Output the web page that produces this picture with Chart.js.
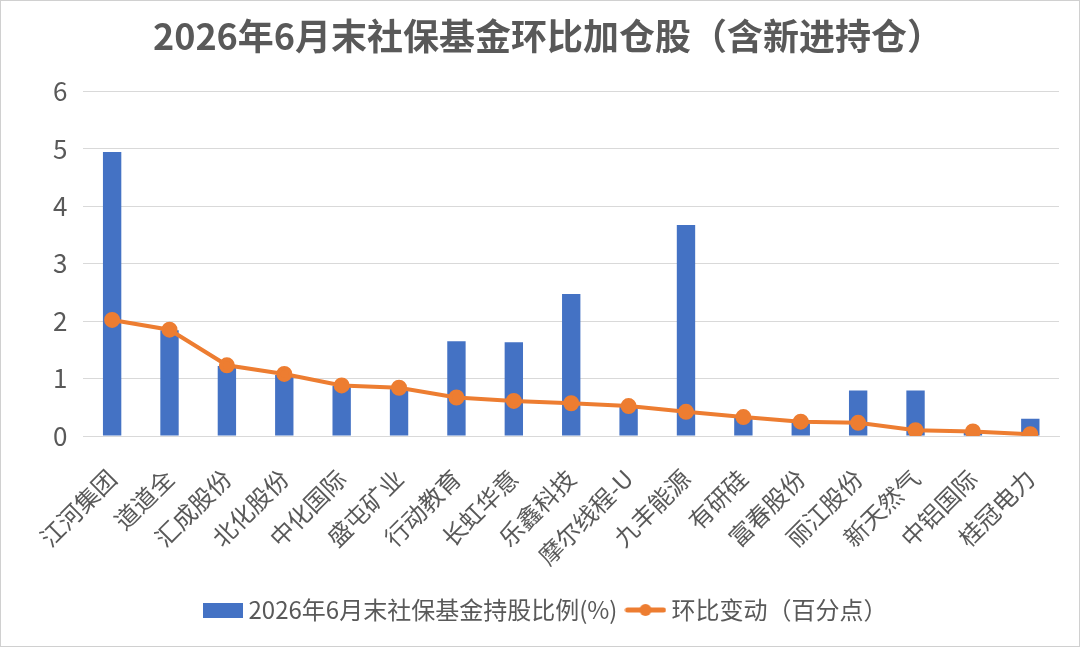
<!DOCTYPE html>
<html>
<head>
<meta charset="utf-8">
<script src="https://cdn.jsdelivr.net/npm/chart.js@4/dist/chart.umd.min.js"></script>
<style>
  html, body { margin: 0; padding: 0; background: #fff; }
  #wrap { position: relative; width: 1078px; height: 645px; border: 1px solid #d0d0d0; }
</style>
</head>
<body>
<div id="wrap"><canvas id="c"></canvas></div>
<script>
const categories = ['江河集团','道道全','汇成股份','北化股份','中化国际','盛屯矿业','行动教育','长虹华意','乐鑫科技','摩尔线程-U','九丰能源','有研硅','富春股份','丽江股份','新天然气','中铝国际','桂冠电力'];
const holdingPct = [4.94, 1.84, 1.22, 1.06, 0.87, 0.83, 1.65, 1.63, 2.47, 0.51, 3.67, 0.32, 0.24, 0.79, 0.79, 0.06, 0.30];
const changePts  = [2.02, 1.85, 1.23, 1.08, 0.88, 0.84, 0.67, 0.61, 0.57, 0.52, 0.42, 0.33, 0.25, 0.23, 0.10, 0.08, 0.03];
const yTicks = [0, 1, 2, 3, 4, 5, 6];

const FONT = '"Noto Sans CJK SC", "Noto Sans", sans-serif';
const TXT = '#595959';
const BLUE = '#4472C4';
const ORANGE = '#ED7D31';

// legend icons
const barIcon = document.createElement('canvas');
barIcon.width = 40; barIcon.height = 15;
(function(){
  const g = barIcon.getContext('2d');
  g.fillStyle = BLUE; g.fillRect(0, 0, 40, 15);
})();
const lineIcon = document.createElement('canvas');
lineIcon.width = 42; lineIcon.height = 14;
(function(){
  const g = lineIcon.getContext('2d');
  g.strokeStyle = ORANGE; g.lineWidth = 5; g.lineCap = 'round';
  g.beginPath(); g.moveTo(3, 7); g.lineTo(39, 7); g.stroke();
  g.fillStyle = ORANGE;
  g.beginPath(); g.arc(21, 7, 6, 0, Math.PI * 2); g.fill();
})();

new Chart(document.getElementById('c'), {
  data: {
    labels: categories,
    datasets: [
      {
        type: 'line',
        label: '环比变动（百分点）',
        data: changePts,
        borderColor: ORANGE,
        backgroundColor: ORANGE,
        borderWidth: 4,
        pointRadius: 6,
        pointHoverRadius: 6,
        pointBackgroundColor: ORANGE,
        pointBorderColor: ORANGE,
        pointStyle: 'circle',
        tension: 0,
        order: 1
      },
      {
        type: 'bar',
        label: '2026年6月末社保基金持股比例(%)',
        data: holdingPct,
        backgroundColor: BLUE,
        borderWidth: 0,
        categoryPercentage: 1.0,
        barPercentage: 0.32,
        order: 2
      }
    ]
  },
  options: {
    responsive: true,
    maintainAspectRatio: false,
    animation: false,
    layout: { padding: { left: 36, right: 20, top: 8, bottom: 14 } },
    plugins: {
      title: {
        display: true,
        text: '2026年6月末社保基金环比加仓股（含新进持仓）',
        color: TXT,
        font: { family: FONT, size: 36, weight: 'bold' },
        padding: { top: 6, bottom: 33 }
      },
      legend: {
        position: 'bottom',
        reverse: true,
        labels: {
          color: TXT,
          font: { family: FONT, size: 24 },
          usePointStyle: true,
          pointStyleWidth: 28,
          padding: 14,
          generateLabels: function(chart) {
            const items = Chart.defaults.plugins.legend.labels.generateLabels(chart);
            items.forEach(it => {
              const ds = chart.data.datasets[it.datasetIndex];
              it.pointStyle = (ds.type === 'line') ? lineIcon : barIcon;
            });
            return items;
          }
        }
      },
      tooltip: { enabled: false }
    },
    scales: {
      x: {
        grid: { display: false },
        border: { display: true, color: '#d9d9d9', width: 1 },
        afterFit: function(scale) { scale.height = 148; },
        ticks: {
          color: TXT,
          font: { family: FONT, size: 24 },
          maxRotation: 45,
          minRotation: 45,
          autoSkip: false,
          padding: 20
        }
      },
      y: {
        min: 0,
        max: 6,
        afterBuildTicks: function(axis) { axis.ticks = yTicks.map(v => ({ value: v })); },
        grid: { color: '#d9d9d9', lineWidth: 1, drawTicks: false },
        border: { display: false },
        ticks: {
          color: TXT,
          font: { family: FONT, size: 26 },
          padding: 16
        }
      }
    }
  }
});
</script>
</body>
</html>
